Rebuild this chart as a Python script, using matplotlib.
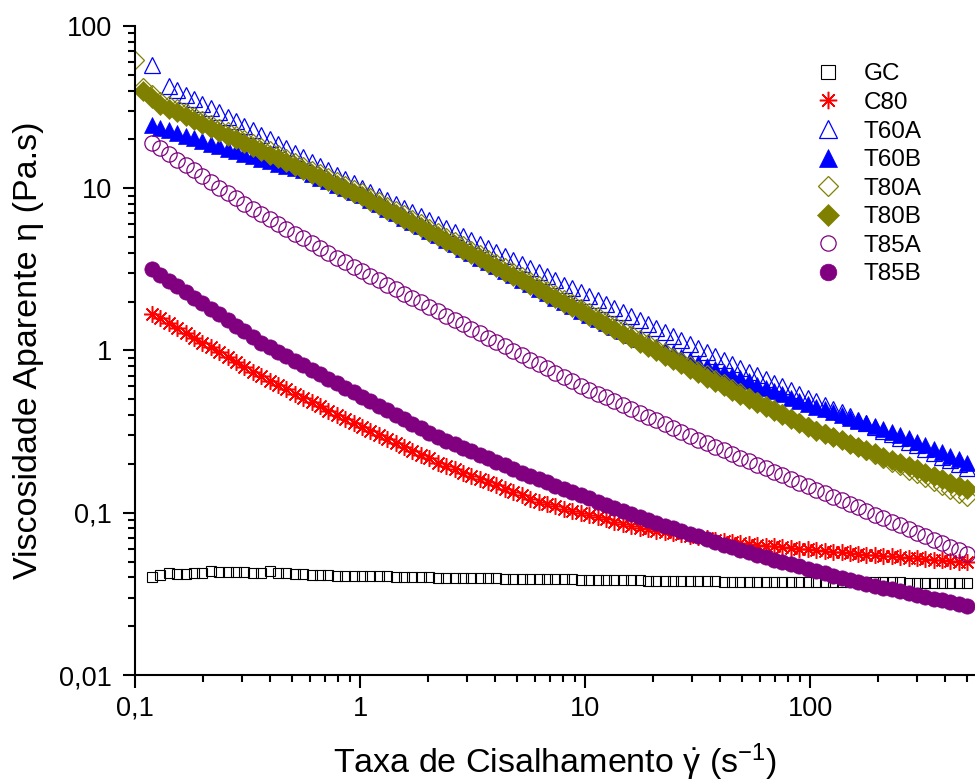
import numpy as np
import matplotlib
matplotlib.use('Agg')
import matplotlib.pyplot as plt
from matplotlib.ticker import LogLocator, NullFormatter

nan = np.nan

# taxa de cisalhamento (s-1)
shear = [0.1, 0.109, 0.119, 0.129, 0.141, 0.154, 0.168, 0.183, 0.199, 0.217,
         0.236, 0.258, 0.281, 0.306, 0.333, 0.363, 0.396, 0.432, 0.470, 0.512,
         0.559, 0.609, 0.664, 0.723, 0.788, 0.859, 0.936, 1.02, 1.11, 1.21,
         1.32, 1.44, 1.57, 1.71, 1.86, 2.03, 2.21, 2.41, 2.63, 2.87,
         3.12, 3.40, 3.71, 4.04, 4.41, 4.80, 5.23, 5.70, 6.22, 6.77,
         7.38, 8.04, 8.77, 9.56, 10.4, 11.4, 12.4, 13.5, 14.7, 16.0,
         17.5, 19.0, 20.7, 22.6, 24.6, 26.8, 29.2, 31.9, 34.7, 37.9,
         41.3, 45.0, 49.0, 53.4, 58.2, 63.4, 69.1, 75.3, 82.1, 89.5,
         97.5, 106, 116, 126, 138, 150, 163, 178, 194, 212,
         231, 251, 274, 298, 325, 354, 386, 421, 459, 500]

# viscosidade aparente (Pa.s)
gc = [nan, nan, 0.0401, 0.0415, 0.0425, 0.0419, 0.0421, 0.0425, 0.0425, 0.0437,
      0.0431, 0.0431, 0.0431, 0.0431, 0.0425, 0.0428, 0.0437, 0.0428, 0.0425, 0.0419,
      0.0417, 0.0415, 0.0413, 0.0411, 0.0410, 0.0409, 0.0408, 0.0408, 0.0407, 0.0406,
      0.0405, 0.0404, 0.0403, 0.0402, 0.0401, 0.0400, 0.0399, 0.0399, 0.0398, 0.0397,
      0.0396, 0.0395, 0.0395, 0.0394, 0.0393, 0.0393, 0.0392, 0.0391, 0.0391, 0.0390,
      0.0389, 0.0389, 0.0388, 0.0387, 0.0387, 0.0386, 0.0385, 0.0385, 0.0384, 0.0384,
      0.0383, 0.0382, 0.0382, 0.0381, 0.0381, 0.0380, 0.0379, 0.0379, 0.0378, 0.0378,
      0.0377, 0.0377, 0.0376, 0.0376, 0.0375, 0.0375, 0.0375, 0.0374, 0.0374, 0.0374,
      0.0374, 0.0373, 0.0373, 0.0373, 0.0373, 0.0373, 0.0372, 0.0372, 0.0372, 0.0372,
      0.0372, 0.0372, 0.0371, 0.0371, 0.0371, 0.0371, 0.0371, 0.0371, 0.0371, 0.0371]

c80 = [nan, nan, 1.69, 1.58, 1.47, 1.38, 1.29, 1.20, 1.12, 1.05,
       0.975, 0.910, 0.849, 0.794, 0.741, 0.692, 0.652, 0.612, 0.577, 0.543,
       0.511, 0.481, 0.452, 0.426, 0.401, 0.377, 0.355, 0.336, 0.318, 0.301,
       0.284, 0.269, 0.255, 0.241, 0.228, 0.216, 0.204, 0.195, 0.186, 0.177,
       0.169, 0.162, 0.155, 0.148, 0.141, 0.134, 0.128, 0.122, 0.117, 0.113,
       0.110, 0.106, 0.103, 0.100, 0.0970, 0.0940, 0.0910, 0.0883, 0.0855, 0.0830,
       0.0804, 0.0789, 0.0775, 0.0762, 0.0748, 0.0735, 0.0721, 0.0710, 0.0697, 0.0684,
       0.0671, 0.0661, 0.0649, 0.0641, 0.0635, 0.0628, 0.0621, 0.0615, 0.0608, 0.0601,
       0.0596, 0.0589, 0.0582, 0.0577, 0.0570, 0.0564, 0.0558, 0.0553, 0.0548, 0.0543,
       0.0538, 0.0533, 0.0528, 0.0524, 0.0519, 0.0514, 0.0509, 0.0505, 0.0500, 0.0495]

t60a = [nan, nan, 57.5, nan, 42.8, 40.2, 37.7, 35.4, 33.2, 31.2,
        29.3, 27.5, 25.8, 24.2, 22.8, 21.4, 20.0, 18.8, 17.7, 16.6,
        15.6, 14.6, 13.7, 12.9, 12.1, 11.4, 10.7, 10.0, 9.44, 8.93,
        8.43, 7.96, 7.53, 7.11, 6.71, 6.34, 6.00, 5.66, 5.35, 5.06,
        4.78, 4.51, 4.27, 4.03, 3.80, 3.59, 3.40, 3.21, 3.03, 2.86,
        2.70, 2.55, 2.42, 2.28, 2.16, 2.04, 1.93, 1.82, 1.72, 1.63,
        1.54, 1.45, 1.37, 1.30, 1.23, 1.16, 1.10, 1.04, 0.977, 0.925,
        0.873, 0.826, 0.780, 0.740, 0.703, 0.667, 0.632, 0.600, 0.570, 0.541,
        0.513, 0.488, 0.462, 0.439, 0.416, 0.395, 0.375, 0.356, 0.338, 0.321,
        0.304, 0.288, 0.274, 0.260, 0.247, 0.234, 0.222, 0.211, 0.200, 0.190]

t60b = [nan, nan, 24.6, 23.6, 22.8, 21.9, 21.0, 20.3, 19.5, 18.8,
        18.1, 17.5, 16.9, 16.3, 15.7, 15.2, 14.7, 14.2, 13.7, 13.3,
        12.9, 12.3, 11.6, 11.1, 10.5, 9.98, 9.48, 9.02, 8.47, 7.94,
        7.46, 7.02, 6.58, 6.18, 5.81, 5.46, 5.12, 4.81, 4.52, 4.24,
        3.98, 3.74, 3.51, 3.30, 3.10, 2.90, 2.73, 2.56, 2.41, 2.26,
        2.12, 2.00, 1.87, 1.76, 1.66, 1.57, 1.48, 1.40, 1.32, 1.25,
        1.18, 1.11, 1.05, 1.00, 0.959, 0.918, 0.879, 0.841, 0.805, 0.771,
        0.738, 0.706, 0.676, 0.646, 0.617, 0.589, 0.562, 0.537, 0.513, 0.490,
        0.468, 0.450, 0.433, 0.416, 0.400, 0.385, 0.370, 0.356, 0.342, 0.329,
        0.316, 0.301, 0.287, 0.274, 0.261, 0.248, 0.237, 0.225, 0.214, 0.204]

t80a = [61.7, 42.2, 38.2, 34.6, 32.8, 31.1, 29.4, 27.8, 26.3, 25.0,
        23.6, 22.4, 21.2, 20.1, 19.0, 18.0, 17.1, 16.2, 15.4, 14.5,
        13.8, 13.0, 12.4, 11.7, 11.1, 10.5, 9.96, 9.45, 8.88, 8.32,
        7.82, 7.35, 6.89, 6.48, 6.09, 5.72, 5.36, 5.04, 4.74, 4.44,
        4.17, 3.92, 3.68, 3.45, 3.25, 3.04, 2.86, 2.69, 2.52, 2.37,
        2.22, 2.09, 1.96, 1.84, 1.73, 1.63, 1.53, 1.43, 1.35, 1.26,
        1.18, 1.11, 1.04, 0.975, 0.917, 0.861, 0.810, 0.760, 0.713, 0.670,
        0.630, 0.590, 0.551, 0.519, 0.489, 0.461, 0.434, 0.409, 0.385, 0.363,
        0.342, 0.325, 0.309, 0.294, 0.280, 0.267, 0.253, 0.239, 0.226, 0.215,
        0.204, 0.193, 0.182, 0.173, 0.164, 0.155, 0.147, 0.139, 0.131, 0.125]

t80b = [nan, 39.8, 36.1, 32.7, 30.9, 29.3, 27.7, 26.2, 24.8, 23.6,
        22.3, 21.1, 20.0, 19.0, 18.0, 17.0, 16.1, 15.3, 14.5, 13.7,
        13.0, 12.3, 11.7, 11.1, 10.5, 9.93, 9.40, 8.91, 8.38, 7.85,
        7.38, 6.93, 6.50, 6.11, 5.74, 5.40, 5.06, 4.75, 4.47, 4.19,
        3.94, 3.70, 3.47, 3.26, 3.06, 2.87, 2.70, 2.54, 2.38, 2.23,
        2.10, 1.97, 1.85, 1.74, 1.63, 1.54, 1.44, 1.35, 1.27, 1.19,
        1.12, 1.05, 0.989, 0.929, 0.873, 0.820, 0.771, 0.724, 0.679, 0.638,
        0.600, 0.564, 0.528, 0.499, 0.472, 0.446, 0.421, 0.398, 0.376, 0.356,
        0.336, 0.321, 0.306, 0.292, 0.279, 0.267, 0.255, 0.243, 0.232, 0.222,
        0.212, 0.202, 0.193, 0.185, 0.176, 0.168, 0.161, 0.153, 0.146, 0.140]

t85a = [nan, nan, 19.1, 17.6, 16.3, 15.0, 13.9, 12.9, 11.9, 11.0,
        10.1, 9.38, 8.67, 8.02, 7.41, 6.92, 6.46, 6.03, 5.62, 5.25,
        4.90, 4.57, 4.28, 3.99, 3.72, 3.50, 3.28, 3.08, 2.89, 2.72,
        2.55, 2.39, 2.24, 2.11, 1.98, 1.86, 1.74, 1.64, 1.54, 1.45,
        1.36, 1.28, 1.20, 1.13, 1.06, 0.995, 0.935, 0.879, 0.826, 0.776,
        0.731, 0.687, 0.646, 0.607, 0.574, 0.543, 0.515, 0.488, 0.461, 0.437,
        0.413, 0.391, 0.371, 0.351, 0.332, 0.314, 0.298, 0.282, 0.268, 0.255,
        0.242, 0.230, 0.219, 0.208, 0.198, 0.188, 0.179, 0.170, 0.161, 0.153,
        0.146, 0.139, 0.132, 0.125, 0.119, 0.113, 0.108, 0.102, 0.0973, 0.0925,
        0.0879, 0.0836, 0.0794, 0.0755, 0.0718, 0.0682, 0.0649, 0.0617, 0.0586, 0.0557]

t85b = [nan, nan, 3.16, 2.91, 2.69, 2.48, 2.30, 2.12, 1.95, 1.81,
        1.67, 1.54, 1.42, 1.31, 1.21, 1.12, 1.05, 0.984, 0.923, 0.865,
        0.811, 0.760, 0.713, 0.668, 0.627, 0.587, 0.551, 0.518, 0.485, 0.455,
        0.428, 0.401, 0.376, 0.353, 0.331, 0.310, 0.292, 0.277, 0.264, 0.251,
        0.239, 0.228, 0.216, 0.206, 0.196, 0.187, 0.177, 0.169, 0.161, 0.154,
        0.147, 0.141, 0.134, 0.129, 0.123, 0.117, 0.112, 0.107, 0.103, 0.0982,
        0.0938, 0.0902, 0.0867, 0.0834, 0.0804, 0.0773, 0.0743, 0.0714, 0.0687, 0.0661,
        0.0635, 0.0611, 0.0587, 0.0569, 0.0551, 0.0533, 0.0515, 0.0499, 0.0483, 0.0468,
        0.0453, 0.0439, 0.0424, 0.0410, 0.0397, 0.0385, 0.0374, 0.0365, 0.0356, 0.0346,
        0.0337, 0.0328, 0.0320, 0.0311, 0.0303, 0.0296, 0.0288, 0.0281, 0.0273, 0.0266]

plt.rcParams['font.family'] = ['Liberation Sans', 'DejaVu Sans']
plt.rcParams['mathtext.fontset'] = 'custom'
plt.rcParams['mathtext.rm'] = 'Liberation Sans'
plt.rcParams['mathtext.it'] = 'Liberation Sans:italic'

olive = '#808000'
purple = '#800080'

# nome, dados, estilo, tamanho na legenda
series = [
    ('GC', gc, dict(marker='s', ms=6.5, mfc='none', mec='black', mew=0.8), 10.5),
    ('C80', c80, dict(marker=(8, 2, 0), ms=12, mec='red', mew=1.1), 12.5),
    ('T60A', t60a, dict(marker='^', ms=12, mfc='none', mec='blue', mew=0.9), 13),
    ('T60B', t60b, dict(marker='^', ms=12, mfc='blue', mec='blue', mew=0.5), 13),
    ('T80A', t80a, dict(marker='D', ms=9, mfc='none', mec=olive, mew=0.9), 10),
    ('T80B', t80b, dict(marker='D', ms=10, mfc=olive, mec=olive, mew=0.5), 11),
    ('T85A', t85a, dict(marker='o', ms=11, mfc='none', mec=purple, mew=0.9), 11),
    ('T85B', t85b, dict(marker='o', ms=11, mfc=purple, mec=purple, mew=0.5), 12),
]

fig = plt.figure(figsize=(9.75, 7.82), dpi=100)
ax = fig.add_axes([0.1385, 0.1368, 0.8615, 0.83])

for name, vals, st, _ in series:
    ax.plot(shear, vals, ls='none', label=name, **st)

ax.set_xscale('log')
ax.set_yscale('log')
ax.set_xlim(0.1, 541)
ax.set_ylim(0.01, 100)

ax.set_xticks([0.1, 1, 10, 100])
ax.set_xticklabels(['0,1', '1', '10', '100'])
ax.set_yticks([0.01, 0.1, 1, 10, 100])
ax.set_yticklabels(['0,01', '0,1', '1', '10', '100'])
ax.xaxis.set_minor_locator(LogLocator(base=10, subs=[2, 3, 4, 5, 6, 7, 8, 9]))
ax.yaxis.set_minor_locator(LogLocator(base=10, subs=[2, 3, 4, 5, 6, 7, 8, 9]))
ax.xaxis.set_minor_formatter(NullFormatter())
ax.yaxis.set_minor_formatter(NullFormatter())

ax.tick_params(which='major', direction='out', length=9, width=1.5, labelsize=19.5)
ax.tick_params(which='minor', direction='out', length=5, width=1.5)
ax.tick_params(axis='x', which='major', pad=6)
ax.tick_params(axis='y', which='major', pad=7.5)
ax.spines['top'].set_visible(False)
ax.spines['right'].set_visible(False)
ax.spines['left'].set_linewidth(1.5)
ax.spines['bottom'].set_linewidth(1.5)

ax.set_xlabel(r'Taxa de Cisalhamento $\dot{\mathrm{\gamma}}$ (s$^{\mathrm{-1}}$)', fontsize=24.5)
ax.set_ylabel('Viscosidade Aparente η (Pa.s)', fontsize=24.5)
ax.xaxis.set_label_coords(0.5, -0.103)
ax.yaxis.set_label_coords(-0.108, 0.5)

leg = ax.legend(loc='upper left', bbox_to_anchor=(0.837, 0.919),
                bbox_transform=fig.transFigure, frameon=False, fontsize=17.5,
                handlelength=1.0, handletextpad=0.95, labelspacing=0.27,
                borderpad=0, borderaxespad=0, numpoints=1)
for h, s in zip(leg.legend_handles, series):
    h.set_markersize(s[3])

fig.savefig('out.png', dpi=100)
